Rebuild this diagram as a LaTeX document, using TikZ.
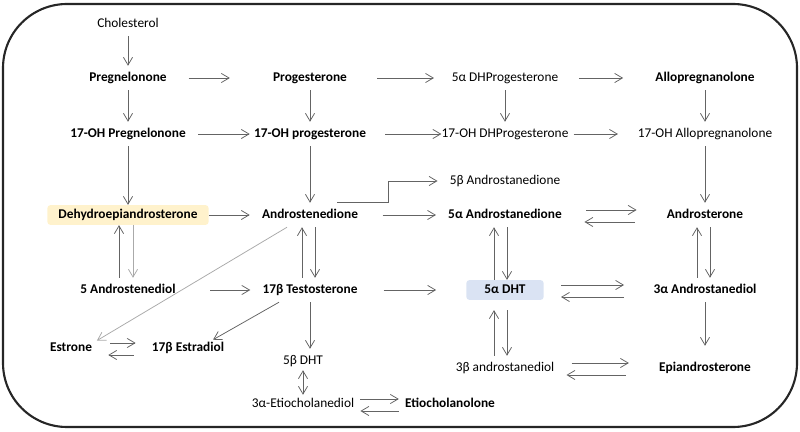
\documentclass[tikz,border=0pt]{standalone}
\usepackage{fontspec}
\setmainfont{Carlito}
\usetikzlibrary{arrows.meta}
\definecolor{arrowgray}{RGB}{100,100,100}
\definecolor{palegray}{RGB}{170,170,170}
\definecolor{framegray}{RGB}{38,38,38}
\definecolor{dheafill}{RGB}{255,242,204}
\definecolor{dhtfill}{RGB}{218,227,243}
\tikzstyle{line} = [draw, arrowgray, line width=0.55pt, ->]
\tikzstyle{frame} = [draw, framegray, line width=1.5pt, rounded corners=1.6cm]
\tikzstyle{chem} = [font=\fontsize{9.5}{11}\selectfont, inner xsep=0.3cm, inner ysep=4pt, text height=7pt, text depth=2pt]
\tikzstyle{bchem} = [chem, font=\fontsize{9.5}{11}\selectfont\bfseries]
\tikzstyle{tagged} = [bchem, rounded corners=2pt, inner xsep=0.275cm, inner ysep=2.5pt]

\begin{document}
\begin{tikzpicture}[node distance=4.55cm, >={Straight Barb[length=5.5pt,width=6.5pt]}]
        \useasboundingbox (0,0) rectangle (20,-10.8);
        \draw[frame] (0.075,-0.1) rectangle (19.925,-10.675);
        % pregnanes
        \node[bchem] (preg) at (3.2,-1.95) {Pregnelonone};
        \node[chem, above of=preg, node distance=1.35cm] (chol) {Cholesterol};
        \node[bchem, right of=preg] (prog) {Progesterone};
        \node[chem, right of=prog, node distance=4.875cm] (dhprog) {5α DHProgesterone};
        \node[bchem, right of=dhprog, node distance=5cm] (allo) {Allopregnanolone};
        \node[bchem, below of=preg, node distance=1.4cm] (ohpreg) {17-OH Pregnelonone};
        \node[bchem, below of=prog, node distance=1.4cm] (ohprog) {17-OH progesterone};
        \node[chem, below of=dhprog, node distance=1.4cm] (ohdhprog) {17-OH DHProgesterone};
        \node[chem, below of=allo, node distance=1.4cm] (ohallo) {17-OH Allopregnanolone};
        % androgens
        \node[tagged, fill=dheafill, below of=ohpreg, node distance=2.025cm] (dhea) {Dehydroepiandrosterone};
        \node[bchem, below of=ohprog, node distance=2.025cm] (andro) {Androstenedione};
        \node[chem, below of=ohdhprog, node distance=1.175cm] (bandro) {5β Androstanedione};
        \node[bchem, below of=ohdhprog, node distance=2.025cm] (aandro) {5α Androstanedione};
        \node[bchem, below of=ohallo, node distance=2.025cm] (androst) {Androsterone};
        \node[bchem, below of=dhea, node distance=1.875cm] (adiol) {5 Androstenediol};
        \node[bchem, below of=andro, node distance=1.875cm] (testo) {17β Testosterone};
        \node[tagged, fill=dhtfill, inner xsep=0.45cm, below of=aandro, node distance=1.875cm] (dht) {5α DHT};
        \node[bchem, below of=androst, node distance=1.875cm] (aadiol) {3α Androstanediol};
        % estrogens and the rest
        \node[bchem, below of=adiol, node distance=1.45cm, xshift=-1.425cm] (estrone) {Estrone};
        \node[bchem, right of=estrone, node distance=2.925cm] (estradiol) {17β Estradiol};
        \node[chem, below of=testo, node distance=1.775cm, xshift=-0.175cm] (bdht) {5β DHT};
        \node[chem, below of=bdht, node distance=1.075cm] (etiodiol) {3α-Etiocholanediol};
        \node[bchem, right of=etiodiol, node distance=3.675cm] (etiolone) {Etiocholanolone};
        \node[chem, below of=dht, node distance=1.95cm] (bdiol) {3β androstanediol};
        \node[bchem, below of=aadiol, node distance=1.95cm] (epi) {Epiandrosterone};
        % down
        \path[line] (chol) -- (preg);
        \path[line] (preg) -- (ohpreg);
        \path[line] (prog) -- (ohprog);
        \path[line] (dhprog) -- (ohdhprog);
        \path[line] (allo) -- (ohallo);
        \path[line] (ohpreg) -- (dhea);
        \path[line] (ohprog) -- (andro);
        \path[line] (ohallo) -- (androst);
        \path[line] (testo) -- (testo |- bdht.north);
        \path[line, <->, shorten <=-0.075cm, shorten >=-0.075cm] (bdht) -- (etiodiol);
        \path[line, shorten >=0.25cm] (aadiol) -- (epi);
        % across
        \path[line, shorten <=0.24cm, shorten >=0.775cm] (preg) -- (prog);
        \path[line, shorten <=0.45cm, shorten >=0.14cm] (prog) -- (dhprog);
        \path[line, shorten <=0.21cm, shorten >=0.5cm] (dhprog) -- (allo);
        \path[line, shorten >=-0.2cm] (ohpreg) -- (ohprog);
        \path[line, shorten <=0.175cm, shorten >=-0.3cm] (ohprog) -- (ohdhprog);
        \path[line, shorten <=-0.175cm, shorten >=0.19cm] (ohdhprog) -- (ohallo);
        \path[line] (dhea) -- (andro);
        \path[line, shorten <=0.31cm] (andro) -- (aandro);
        \path[line, shorten <=0.56cm] (adiol) -- (testo);
        \path[line, shorten <=0.35cm, shorten >=0.75cm] (testo) -- (dht);
        \path[line] ([xshift=0.675cm]andro.north) -- ++(1.275,0) |- (bandro);
        % both ways
        \path[line, shorten <=0.31cm, shorten >=0.45cm] ([yshift=0.125cm]aandro.east) -- ([yshift=0.125cm]androst.west);
        \path[line, shorten <=0.5cm, shorten >=0.26cm] ([yshift=-0.175cm]androst.west) -- ([yshift=-0.175cm]aandro.east);
        \path[line, shorten <=0.43cm, shorten >=0.43cm] ([yshift=0.125cm]dht.east) -- ([yshift=0.125cm]aadiol.west);
        \path[line, shorten <=0.43cm, shorten >=0.43cm] ([yshift=-0.175cm]aadiol.west) -- ([yshift=-0.175cm]dht.east);
        \path[line, shorten <=0.125cm, shorten >=0.45cm] ([yshift=0.125cm]bdiol.east) -- ([yshift=0.125cm]epi.west);
        \path[line, shorten <=0.525cm] ([yshift=-0.175cm]epi.west) -- ([yshift=-0.175cm]bdiol.east);
        \path[line, shorten <=0.15cm, shorten >=0.1cm] ([yshift=0.125cm]estrone.east) -- ([yshift=0.125cm]estradiol.west);
        \path[line, shorten <=0.15cm, shorten >=0.1cm] ([yshift=-0.175cm]estradiol.west) -- ([yshift=-0.175cm]estrone.east);
        \path[line, shorten <=-0.15cm, shorten >=-0.15cm] ([yshift=0.125cm]etiodiol.east) -- ([yshift=0.125cm]etiolone.west);
        \path[line, shorten <=-0.15cm, shorten >=-0.15cm] ([yshift=-0.175cm]etiolone.west) -- ([yshift=-0.175cm]etiodiol.east);
        \path[line] ([xshift=-0.225cm]adiol.north) -- ([xshift=-0.225cm]dhea.south);
        \path[line, palegray] ([xshift=0.125cm]dhea.south) -- ([xshift=0.125cm]adiol.north);
        \path[line] ([xshift=-0.2cm]testo.north) -- ([xshift=-0.2cm]andro.south);
        \path[line] ([xshift=0.125cm]andro.south) -- ([xshift=0.125cm]testo.north);
        \path[line] ([xshift=-0.275cm]dht.north) -- ([xshift=-0.275cm]aandro.south);
        \path[line] ([xshift=0.05cm]aandro.south) -- ([xshift=0.05cm]dht.north);
        \path[line, shorten >=0.25cm] ([xshift=-0.275cm]bdiol.north) -- ([xshift=-0.275cm]dht.south);
        \path[line, shorten <=0.25cm] ([xshift=0.05cm]dht.south) -- ([xshift=0.05cm]bdiol.north);
        \path[line] ([xshift=-0.2cm]aadiol.north) -- ([xshift=-0.2cm]androst.south);
        \path[line] ([xshift=0.125cm]androst.south) -- ([xshift=0.125cm]aadiol.north);
        % to the estrogens
        \path[line, palegray, shorten >=-0.235cm] ([xshift=-0.575cm]andro.south) -- ([xshift=0.85cm]estrone.north);
        \path[line, shorten >=-0.2cm] ([xshift=-0.775cm]testo.south) -- ([xshift=0.8cm]estradiol.north);
\end{tikzpicture}
\end{document}
